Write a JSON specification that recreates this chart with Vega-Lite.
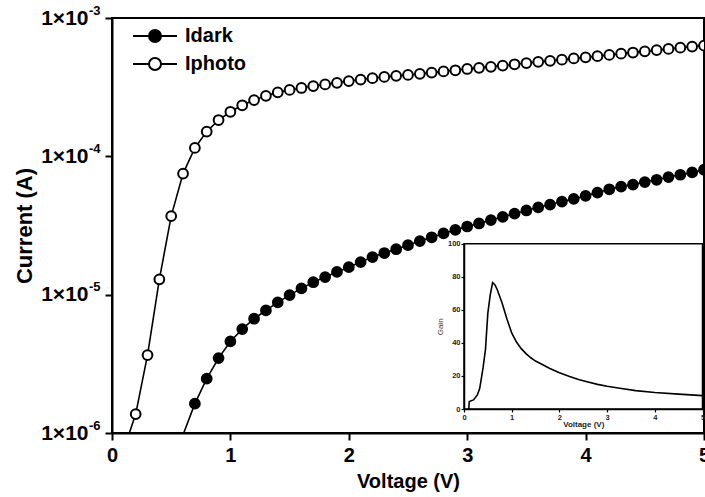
{
  "$schema": "https://vega.github.io/schema/vega-lite/v6.json",
  "width": 592,
  "height": 415,
  "autosize": {"type": "none"},
  "padding": {"left": 112, "top": 18, "right": 1, "bottom": 64},
  "background": "white",
  "config": {
    "view": {"stroke": "black", "strokeWidth": 2},
    "font": "Liberation Sans"
  },
  "datasets": {
    "iv": [
      {"V": 0.1, "I": 7.6e-7, "s": "Iphoto"},
      {"V": 0.2, "I": 1.37e-6, "s": "Iphoto"},
      {"V": 0.3, "I": 3.66e-6, "s": "Iphoto"},
      {"V": 0.4, "I": 1.29e-5, "s": "Iphoto"},
      {"V": 0.5, "I": 3.7e-5, "s": "Iphoto"},
      {"V": 0.6, "I": 7.5e-5, "s": "Iphoto"},
      {"V": 0.7, "I": 1.15e-4, "s": "Iphoto"},
      {"V": 0.8, "I": 1.51e-4, "s": "Iphoto"},
      {"V": 0.9, "I": 1.83e-4, "s": "Iphoto"},
      {"V": 1.0, "I": 2.1e-4, "s": "Iphoto"},
      {"V": 1.1, "I": 2.34e-4, "s": "Iphoto"},
      {"V": 1.2, "I": 2.55e-4, "s": "Iphoto"},
      {"V": 1.3, "I": 2.74e-4, "s": "Iphoto"},
      {"V": 1.4, "I": 2.9e-4, "s": "Iphoto"},
      {"V": 1.5, "I": 3.02e-4, "s": "Iphoto"},
      {"V": 1.6, "I": 3.12e-4, "s": "Iphoto"},
      {"V": 1.7, "I": 3.22e-4, "s": "Iphoto"},
      {"V": 1.8, "I": 3.31e-4, "s": "Iphoto"},
      {"V": 1.9, "I": 3.4e-4, "s": "Iphoto"},
      {"V": 2.0, "I": 3.5e-4, "s": "Iphoto"},
      {"V": 2.1, "I": 3.59e-4, "s": "Iphoto"},
      {"V": 2.2, "I": 3.67e-4, "s": "Iphoto"},
      {"V": 2.3, "I": 3.75e-4, "s": "Iphoto"},
      {"V": 2.4, "I": 3.82e-4, "s": "Iphoto"},
      {"V": 2.5, "I": 3.88e-4, "s": "Iphoto"},
      {"V": 2.6, "I": 3.95e-4, "s": "Iphoto"},
      {"V": 2.7, "I": 4.03e-4, "s": "Iphoto"},
      {"V": 2.8, "I": 4.11e-4, "s": "Iphoto"},
      {"V": 2.9, "I": 4.19e-4, "s": "Iphoto"},
      {"V": 3.0, "I": 4.28e-4, "s": "Iphoto"},
      {"V": 3.1, "I": 4.36e-4, "s": "Iphoto"},
      {"V": 3.2, "I": 4.44e-4, "s": "Iphoto"},
      {"V": 3.3, "I": 4.53e-4, "s": "Iphoto"},
      {"V": 3.4, "I": 4.63e-4, "s": "Iphoto"},
      {"V": 3.5, "I": 4.72e-4, "s": "Iphoto"},
      {"V": 3.6, "I": 4.82e-4, "s": "Iphoto"},
      {"V": 3.7, "I": 4.9e-4, "s": "Iphoto"},
      {"V": 3.8, "I": 5.0e-4, "s": "Iphoto"},
      {"V": 3.9, "I": 5.1e-4, "s": "Iphoto"},
      {"V": 4.0, "I": 5.2e-4, "s": "Iphoto"},
      {"V": 4.1, "I": 5.3e-4, "s": "Iphoto"},
      {"V": 4.2, "I": 5.41e-4, "s": "Iphoto"},
      {"V": 4.3, "I": 5.52e-4, "s": "Iphoto"},
      {"V": 4.4, "I": 5.63e-4, "s": "Iphoto"},
      {"V": 4.5, "I": 5.74e-4, "s": "Iphoto"},
      {"V": 4.6, "I": 5.86e-4, "s": "Iphoto"},
      {"V": 4.7, "I": 5.98e-4, "s": "Iphoto"},
      {"V": 4.8, "I": 6.1e-4, "s": "Iphoto"},
      {"V": 4.9, "I": 6.21e-4, "s": "Iphoto"},
      {"V": 5.0, "I": 6.32e-4, "s": "Iphoto"},
      {"V": 0.6, "I": 9.7e-7, "s": "Idark"},
      {"V": 0.7, "I": 1.63e-6, "s": "Idark"},
      {"V": 0.8, "I": 2.47e-6, "s": "Idark"},
      {"V": 0.9, "I": 3.48e-6, "s": "Idark"},
      {"V": 1.0, "I": 4.59e-6, "s": "Idark"},
      {"V": 1.1, "I": 5.64e-6, "s": "Idark"},
      {"V": 1.2, "I": 6.7e-6, "s": "Idark"},
      {"V": 1.3, "I": 7.69e-6, "s": "Idark"},
      {"V": 1.4, "I": 8.8e-6, "s": "Idark"},
      {"V": 1.5, "I": 9.93e-6, "s": "Idark"},
      {"V": 1.6, "I": 1.11e-5, "s": "Idark"},
      {"V": 1.7, "I": 1.23e-5, "s": "Idark"},
      {"V": 1.8, "I": 1.34e-5, "s": "Idark"},
      {"V": 1.9, "I": 1.46e-5, "s": "Idark"},
      {"V": 2.0, "I": 1.58e-5, "s": "Idark"},
      {"V": 2.1, "I": 1.72e-5, "s": "Idark"},
      {"V": 2.2, "I": 1.87e-5, "s": "Idark"},
      {"V": 2.3, "I": 2.0e-5, "s": "Idark"},
      {"V": 2.4, "I": 2.13e-5, "s": "Idark"},
      {"V": 2.5, "I": 2.28e-5, "s": "Idark"},
      {"V": 2.6, "I": 2.44e-5, "s": "Idark"},
      {"V": 2.7, "I": 2.6e-5, "s": "Idark"},
      {"V": 2.8, "I": 2.77e-5, "s": "Idark"},
      {"V": 2.9, "I": 2.94e-5, "s": "Idark"},
      {"V": 3.0, "I": 3.11e-5, "s": "Idark"},
      {"V": 3.1, "I": 3.27e-5, "s": "Idark"},
      {"V": 3.2, "I": 3.46e-5, "s": "Idark"},
      {"V": 3.3, "I": 3.65e-5, "s": "Idark"},
      {"V": 3.4, "I": 3.85e-5, "s": "Idark"},
      {"V": 3.5, "I": 4.06e-5, "s": "Idark"},
      {"V": 3.6, "I": 4.28e-5, "s": "Idark"},
      {"V": 3.7, "I": 4.48e-5, "s": "Idark"},
      {"V": 3.8, "I": 4.71e-5, "s": "Idark"},
      {"V": 3.9, "I": 4.92e-5, "s": "Idark"},
      {"V": 4.0, "I": 5.18e-5, "s": "Idark"},
      {"V": 4.1, "I": 5.47e-5, "s": "Idark"},
      {"V": 4.2, "I": 5.78e-5, "s": "Idark"},
      {"V": 4.3, "I": 6.04e-5, "s": "Idark"},
      {"V": 4.4, "I": 6.25e-5, "s": "Idark"},
      {"V": 4.5, "I": 6.52e-5, "s": "Idark"},
      {"V": 4.6, "I": 6.77e-5, "s": "Idark"},
      {"V": 4.7, "I": 7.08e-5, "s": "Idark"},
      {"V": 4.8, "I": 7.36e-5, "s": "Idark"},
      {"V": 4.9, "I": 7.65e-5, "s": "Idark"},
      {"V": 5.0, "I": 8.0e-5, "s": "Idark"}
    ],
    "gain": [
      {"V": 0.1, "G": 0},
      {"V": 0.11, "G": 4.5},
      {"V": 0.2, "G": 5.5},
      {"V": 0.28, "G": 8.5},
      {"V": 0.33, "G": 12.5},
      {"V": 0.4, "G": 25},
      {"V": 0.45, "G": 36},
      {"V": 0.5, "G": 58},
      {"V": 0.55, "G": 69},
      {"V": 0.6, "G": 76.5},
      {"V": 0.65, "G": 75},
      {"V": 0.7, "G": 72},
      {"V": 0.8, "G": 64},
      {"V": 0.9, "G": 54.5},
      {"V": 1.0, "G": 46},
      {"V": 1.1, "G": 40.5},
      {"V": 1.2, "G": 36.5},
      {"V": 1.3, "G": 33.5},
      {"V": 1.4, "G": 31},
      {"V": 1.5, "G": 29},
      {"V": 1.6, "G": 27.5},
      {"V": 1.8, "G": 24.5},
      {"V": 2.0, "G": 22},
      {"V": 2.2, "G": 19.8},
      {"V": 2.4, "G": 17.8},
      {"V": 2.6, "G": 16.3},
      {"V": 2.8, "G": 14.9},
      {"V": 3.0, "G": 13.8},
      {"V": 3.3, "G": 12.4},
      {"V": 3.6, "G": 11.1},
      {"V": 4.0, "G": 10},
      {"V": 4.5, "G": 9},
      {"V": 5.0, "G": 8.1}
    ]
  },
  "layer": [
    {
      "data": {"name": "iv"},
      "layer": [
        {
          "mark": {"type": "line", "stroke": "black", "strokeWidth": 1.6, "clip": true},
          "encoding": {
            "x": {"field": "V", "type": "quantitative"},
            "y": {"field": "I", "type": "quantitative"},
            "detail": {"field": "s"}
          }
        },
        {
          "transform": [{"filter": "datum.I >= 1e-6"}],
          "mark": {"type": "point", "shape": "circle", "filled": true, "stroke": "black", "strokeWidth": 2, "size": 95, "opacity": 1, "clip": true},
          "encoding": {
            "x": {"field": "V", "type": "quantitative"},
            "y": {"field": "I", "type": "quantitative"},
            "fill": {
              "field": "s",
              "type": "nominal",
              "scale": {"domain": ["Idark", "Iphoto"], "range": ["black", "white"]},
              "legend": {
                "orient": "none",
                "legendX": 32,
                "legendY": 7,
                "title": null,
                "padding": 0,
                "symbolType": "M-2.2,0H-0.6M0.6,0H2.2M0.6,0A0.6,0.6,0,1,1,-0.6,0A0.6,0.6,0,1,1,0.6,0",
                "symbolSize": 400,
                "symbolStrokeColor": "black",
                "symbolStrokeWidth": 2,
                "symbolOpacity": 1,
                "labelFont": "Liberation Sans",
                "labelFontWeight": "bold",
                "labelFontSize": 20,
                "labelColor": "black",
                "labelOffset": 19,
                "rowPadding": 7
              }
            }
          }
        }
      ],
      "encoding": {
        "x": {
          "field": "V",
          "type": "quantitative",
          "scale": {"domain": [0, 5], "nice": false, "zero": false},
          "axis": {
            "values": [0, 1, 2, 3, 4, 5],
            "title": "Voltage (V)",
            "titleFontSize": 20,
            "titleFontWeight": "bold",
            "titleColor": "black",
            "titlePadding": 6,
            "labelFontSize": 20,
            "labelFontWeight": "bold",
            "labelColor": "black",
            "labelPadding": 5,
            "labelFlush": false,
            "labelOverlap": false,
            "tickSize": 7,
            "tickWidth": 2,
            "tickColor": "black",
            "domainColor": "black",
            "domainWidth": 2,
            "grid": false,
            "zindex": 1
          }
        },
        "y": {
          "field": "I",
          "type": "quantitative",
          "scale": {"type": "log", "domain": [1e-6, 1e-3], "nice": false},
          "axis": {
            "values": [1e-6, 1e-5, 1e-4, 1e-3],
            "labelExpr": "'1×10'",
            "title": "Current (A)",
            "titleFontSize": 22,
            "titleFontWeight": "bold",
            "titleColor": "black",
            "titlePadding": 4,
            "labelFontSize": 21,
            "labelFontWeight": "bold",
            "labelColor": "black",
            "labelPadding": 17,
            "labelFlush": false,
            "labelOverlap": false,
            "tickSize": 7,
            "tickWidth": 2,
            "tickColor": "black",
            "domainColor": "black",
            "domainWidth": 2,
            "grid": false,
            "zindex": 1
          }
        }
      }
    },
    {
      "data": {"name": "iv"},
      "mark": {"type": "point", "opacity": 0},
      "encoding": {
        "x": {"field": "V", "type": "quantitative", "axis": null, "scale": {"domain": [0, 5], "nice": false, "zero": false}},
        "y": {
          "field": "I",
          "type": "quantitative",
          "scale": {"type": "log", "domain": [1e-6, 1e-3], "nice": false},
          "axis": {
            "orient": "left",
            "values": [1e-6, 1e-5, 1e-4, 1e-3],
            "labelExpr": "datum.value > 5e-4 ? '-3' : datum.value > 5e-5 ? '-4' : datum.value > 5e-6 ? '-5' : '-6'",
            "title": null,
            "ticks": false,
            "domain": false,
            "grid": false,
            "labelFontSize": 13,
            "labelFontWeight": "bold",
            "labelColor": "black",
            "labelPadding": 12,
            "labelOffset": -8,
            "labelFlush": false,
            "labelOverlap": false,
            "zindex": 1
          }
        }
      }
    },
    {
      "data": {"values": [{"box": "inset"}]},
      "mark": {"type": "rect", "fill": "white", "stroke": "black", "strokeWidth": 1.5},
      "encoding": {
        "x": {"datum": 0, "type": "quantitative", "axis": null, "scale": {"domain": [0, 5], "range": [352, 590.5], "nice": false, "zero": false}},
        "x2": {"datum": 5},
        "y": {"datum": 0, "type": "quantitative", "axis": null, "scale": {"domain": [0, 100], "range": [391, 225.7], "nice": false}},
        "y2": {"datum": 100}
      }
    },
    {
      "data": {"name": "gain"},
      "mark": {"type": "line", "stroke": "black", "strokeWidth": 1.6},
      "encoding": {
        "x": {
          "field": "V",
          "type": "quantitative",
          "scale": {"domain": [0, 5], "range": [352, 590.5], "nice": false, "zero": false},
          "axis": {
            "orient": "bottom",
            "offset": -24,
            "values": [0, 1, 2, 3, 4, 5],
            "title": "Voltage (V)",
            "titleFontSize": 8,
            "titleFontWeight": "bold",
            "titleColor": "#222",
            "titlePadding": 0,
            "labelFontSize": 7.5,
            "labelFontWeight": "bold",
            "labelColor": "#222",
            "labelPadding": 1,
            "labelFlush": false,
            "tickSize": 3,
            "tickWidth": 1.2,
            "tickColor": "black",
            "domainColor": "black",
            "domainWidth": 1.5,
            "grid": false,
            "zindex": 2
          }
        },
        "y": {
          "field": "G",
          "type": "quantitative",
          "scale": {"domain": [0, 100], "range": [391, 225.7], "nice": false},
          "axis": {
            "orient": "left",
            "offset": -352,
            "values": [0, 20, 40, 60, 80, 100],
            "title": "Gain",
            "titleFontSize": 8,
            "titleFontWeight": "normal",
            "titleColor": "#333",
            "titlePadding": 3,
            "labelFontSize": 7.5,
            "labelFontWeight": "bold",
            "labelColor": "#222",
            "labelPadding": 1,
            "labelFlush": false,
            "tickSize": 3,
            "tickWidth": 1.2,
            "tickColor": "black",
            "domainColor": "black",
            "domainWidth": 1.5,
            "grid": false,
            "zindex": 2
          }
        }
      }
    }
  ],
  "resolve": {
    "scale": {"x": "independent", "y": "independent"},
    "axis": {"x": "independent", "y": "independent"}
  }
}
